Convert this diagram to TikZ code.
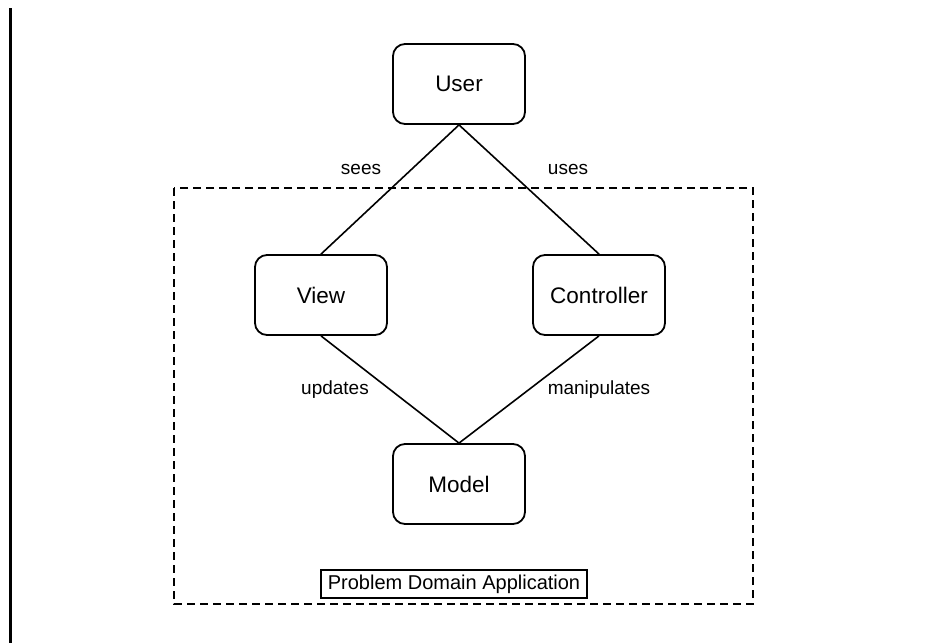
\documentclass[tikz,border=0pt]{standalone}
\usepackage{fontspec}
\setmainfont{Liberation Sans}
\begin{document}
\begin{tikzpicture}[x=1pt,y=-1pt,
  part/.style={draw, line width=1.8pt, rounded corners=12pt, minimum width=132pt, minimum height=80pt, inner sep=0pt, font=\fontsize{22.5}{26}\selectfont},
  link/.style={line width=1.6pt},
  tag/.style={font=\fontsize{19}{22}\selectfont, inner sep=0pt}]
\useasboundingbox (0,0) rectangle (931,643);
\fill[white] (0,0) rectangle (931,643);
% margin rule
\coordinate (rt) at (10.5,8);
\coordinate (rb) at (10.5,643);
\draw[line width=3pt] (rt) -- (rb);
% application boundary
\coordinate (dA) at (174,188);
\coordinate (dB) at (753,604);
\draw[dashed, dash pattern=on 8pt off 5pt, line width=1.6pt] (dA) rectangle (dB);
\node[draw, line width=1.4pt, minimum width=266pt, minimum height=28pt, inner sep=0pt, font=\fontsize{20}{24}\selectfont] (pda) at (454,584) {Problem Domain Application};
% components
\node[part] (user) at (459,84) {User};
\node[part] (view) at (321,295) {View};
\node[part] (ctrl) at (599,295) {Controller};
\node[part] (model) at (459,484) {Model};
% relations
\draw[link] (user.south) -- (view.north);
\draw[link] (user.south) -- (ctrl.north);
\draw[link] (view.south) -- (model.north);
\draw[link] (ctrl.south) -- (model.north);
\node[tag] (sees) at (361,169) {sees};
\node[tag] (uses) at (568,169) {uses};
\node[tag] (upd) at (335,390) {updates};
\node[tag] (man) at (599,390) {manipulates};
\end{tikzpicture}
\end{document}
